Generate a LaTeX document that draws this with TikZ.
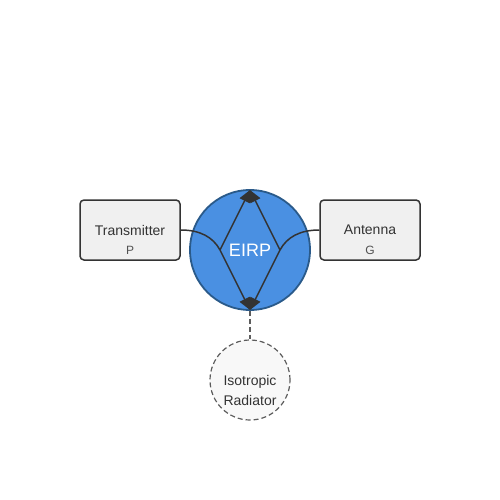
\documentclass[tikz,border=0pt]{standalone}
\usepackage{fontspec}
\setmainfont{Liberation Sans}
\usetikzlibrary{arrows.meta}

\definecolor{eirpblue}{HTML}{4A90E2}
\definecolor{eirpedge}{HTML}{2A5A8A}
\definecolor{boxfill}{HTML}{F0F0F0}
\definecolor{isofill}{HTML}{F8F8F8}
\definecolor{ink}{HTML}{333333}

\tikzset{
  block/.style={draw=ink, line width=1.5pt, fill=boxfill, rounded corners=4pt,
    minimum width=100pt, minimum height=60pt, inner sep=0pt},
  blocktitle/.style={text=ink, font=\fontsize{14}{16}\selectfont, inner sep=0pt},
  blocksym/.style={text=ink!85, font=\fontsize{12}{14}\selectfont, inner sep=0pt},
  wire/.style={draw=ink, line width=1.5pt},
  ray/.style={wire, -{Triangle[length=12pt, width=11pt]}},
}

\begin{document}
\begin{tikzpicture}[x=1pt, y=-1pt]
    \useasboundingbox (0,0) rectangle (500,500);
    % points
    \coordinate (L) at (220,250);
    \coordinate (R) at (280,250);
    \coordinate (T) at (250,190);
    \coordinate (B) at (250,310);
    % blocks
    \node[block] (tx) at (130,230) {};
    \node[blocktitle] (txtitle) at (130,230) {Transmitter};
    \node[blocksym] (txsym) at (130,250) {P};
    \node[block] (ant) at (370,230) {};
    \node[blocktitle] (anttitle) at (370,230) {Antenna};
    \node[blocksym] (antsym) at (370,250) {G};
    \node[circle, draw=eirpedge, line width=1.8pt, fill=eirpblue, minimum size=120pt,
      inner sep=0pt, text=white, font=\fontsize{18}{20}\selectfont] (eirp) at (250,250) {EIRP};
    \node[circle, draw=ink!80, dash pattern=on 5pt off 3pt, line width=1.2pt, fill=isofill,
      minimum size=80pt, inner sep=0pt] (iso) at (250,380) {};
    \node[blocktitle, align=center, font=\fontsize{14}{20}\selectfont] (isotitle) at (250,390) {Isotropic\\Radiator};
    % connectors
    \draw[wire] (tx.east) .. controls (200,230) and (213,237) .. (L);
    \draw[wire] (ant.west) .. controls (300,230) and (287,237) .. (R);
    \draw[ray] (L) -- (T);
    \draw[ray] (L) -- (B);
    \draw[ray] (R) -- (T);
    \draw[ray] (R) -- (B);
    \draw[wire, dash pattern=on 5pt off 3pt, line width=1.2pt, draw=ink!80] (eirp.south) -- (iso.north);
\end{tikzpicture}
\end{document}
